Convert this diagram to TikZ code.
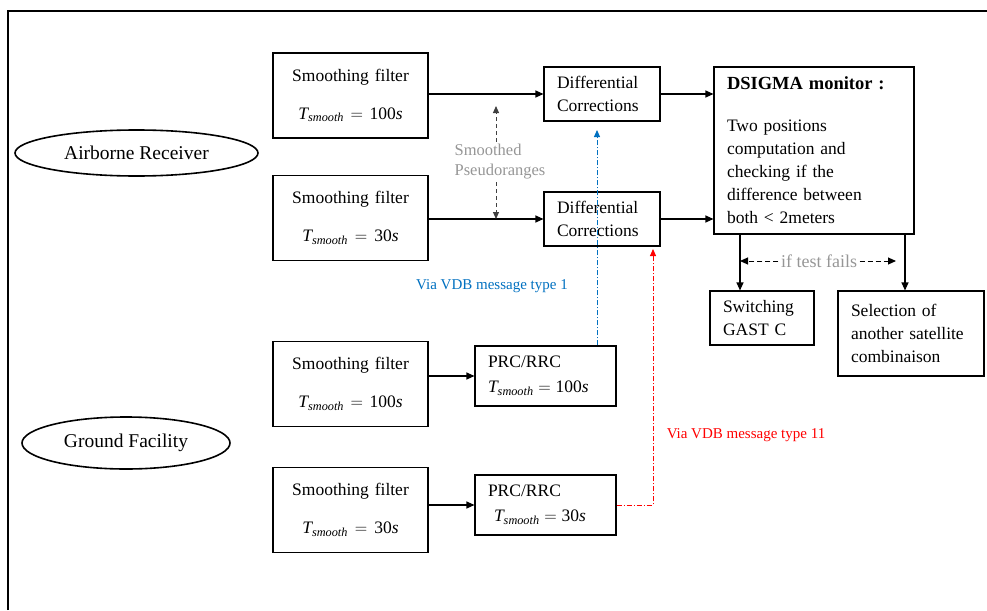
\documentclass[tikz,border=0pt]{standalone}
\usepackage{amsmath}
\usepackage{fontspec}
\setmainfont{Liberation Serif}
\usetikzlibrary{shapes.geometric,arrows.meta}
\definecolor{vdbblue}{RGB}{0,112,192}
\definecolor{vdbred}{RGB}{255,0,0}
\definecolor{notegray}{RGB}{150,150,150}
\newcommand{\tsm}[1]{$\textit{T}_{\textit{smooth}}=\text{#1\textit{s}}$}
\tikzset{
  blk/.style={draw,line width=1.1pt,inner xsep=13pt,inner ysep=0pt,align=left,font=\fontsize{17.5}{23}\selectfont},
  sfbox/.style={blk,align=center,text width=129pt,minimum height=85pt},
  ell/.style={ellipse,draw,line width=1.6pt,inner sep=0pt,font=\fontsize{19.5}{22}\selectfont},
  note/.style={text=notegray,inner sep=2pt},
  prdash/.style={line width=1pt,draw=black!75,dash pattern=on 4pt off 3pt},
  fldash/.style={line width=1pt,dash pattern=on 5pt off 3pt},
  vdb/.style={line width=1pt,dash pattern=on 5pt off 2pt on 1pt off 2pt}
}
\begin{document}
\begin{tikzpicture}[x=1pt,y=-1pt,>={Triangle[length=8pt,width=7pt]},line width=1.1pt]
\useasboundingbox(0,0)rectangle(987,610);
\draw[line width=2pt](8,610)--(8,11)--(987,11);
\node[ell,minimum width=243pt,minimum height=46pt](ar)at(136.5,153){Airborne Receiver};
\node[ell,minimum width=208pt,minimum height=52pt](gf)at(126,443){Ground Facility};
\node[sfbox](sf1)at(350.5,95.5){Smoothing filter\\[15pt]\tsm{100}};
\node[sfbox](sf2)at(350.5,218){Smoothing filter\\[15pt]\tsm{30}};
\node[sfbox](sf3)at(350.5,384){Smoothing filter\\[15pt]\tsm{100}};
\node[sfbox](sf4)at(350.5,510){Smoothing filter\\[15pt]\tsm{30}};
\node[blk,text width=90pt,minimum height=54pt](dc1)at(602,94){Differential\\Corrections};
\node[blk,text width=90pt,minimum height=54pt](dc2)at(602,219){Differential\\Corrections};
\node[blk,text width=174pt,minimum height=167pt](ds)at(814,150.5){{\fontsize{18.5}{23}\selectfont\bfseries DSIGMA monitor :}\\[19pt]Two positions\\computation and\\checking if the\\difference between\\both \textless{} 2meters};
\node[blk,text width=78pt,minimum height=54pt](sw)at(762,318){Switching\\GAST C};
\node[blk,text width=120pt,minimum height=85pt](sel)at(911,333.5){Selection of\\another satellite\\combinaison};
\node[blk,text width=115pt,minimum height=60pt,font=\fontsize{17.5}{25}\selectfont](prc1)at(545.5,376){PRC/RRC\\\tsm{100}};
\node[blk,text width=115pt,minimum height=60pt,font=\fontsize{17.5}{25}\selectfont](prc2)at(545.5,505){PRC/RRC\\\hspace{6pt}\tsm{30}};
\draw[->](sf1.east|-dc1)--(dc1);
\draw[->](sf2.east|-dc2)--(dc2);
\draw[->](dc1)--(dc1-|ds.west);
\draw[->](dc2)--(dc2-|ds.west);
\draw[->](sf3.east|-prc1)--(prc1);
\draw[->](sf4.east|-prc2)--(prc2);
\coordinate(fa)at(740,0);
\coordinate(fb)at(905,0);
\draw[->](ds.south-|fa)--(sw.north-|fa);
\draw[->](ds.south-|fb)--(sel.north-|fb);
\node[note,align=left,font=\fontsize{16.5}{20}\selectfont](sp)at(500,162){Smoothed\\Pseudoranges};
\coordinate(spu)at(496,106);
\coordinate(spd)at(496,219);
\draw[prdash,->,>={Triangle[length=7pt,width=6pt]}](sp.north-|spu)--(spu);
\draw[prdash,->,>={Triangle[length=7pt,width=6pt]}](sp.south-|spd)--(spd);
\node[note,font=\fontsize{18}{20}\selectfont](itf)at(819,261){if test fails};
\draw[fldash,->](itf.west)--(fa|-itf);
\draw[fldash,->,shorten >=9pt](itf.east)--(fb|-itf);
\coordinate(bt)at(597,130);
\draw[vdb,draw=vdbblue,->,>={Triangle[length=7pt,width=6pt,fill=vdbblue]}](prc1.north-|bt)--(bt);
\node[text=vdbblue,font=\fontsize{15}{16}\selectfont](l1)at(492,286){Via VDB message type 1};
\coordinate(rt)at(653,249);
\draw[vdb,draw=vdbred,->,>={Triangle[length=7pt,width=6pt,fill=vdbred]}](prc2.east)-|(rt);
\node[text=vdbred,font=\fontsize{15}{16}\selectfont](l2)at(746,435){Via VDB message type 11};
\end{tikzpicture}
\end{document}
